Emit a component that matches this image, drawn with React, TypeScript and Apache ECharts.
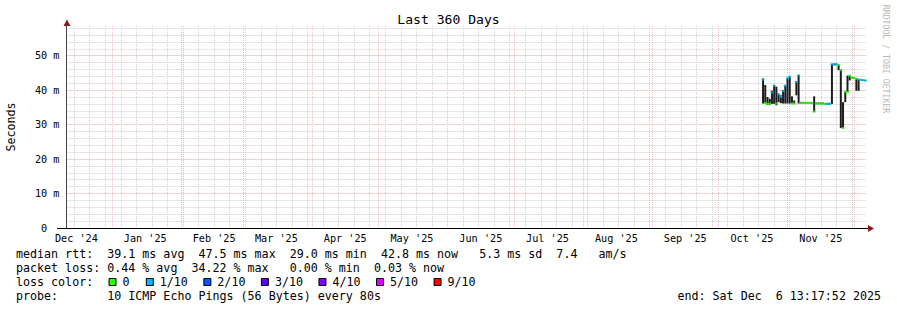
import React, { useEffect, useRef } from "react";
import * as echarts from "echarts";

// ---------- text ----------
const titleText = "Last 360 Days";
const yAxisTitle = "Seconds";
const watermark = "RRDTOOL / TOBI OETIKER";
const legendLines = [
  "median rtt:  39.1 ms avg  47.5 ms max  29.0 ms min  42.8 ms now   5.3 ms sd  7.4   am/s",
  "packet loss: 0.44 % avg  34.22 % max   0.00 % min  0.03 % now",
  "loss color:",
  "probe:       10 ICMP Echo Pings (56 Bytes) every 80s",
];
const endText = "end: Sat Dec  6 13:17:52 2025";

// ---------- time range / ticks ----------
const rangeStart = "2024-12-11T13:17:52";
const rangeEnd = "2025-12-06T13:17:52";
const firstSunday = "2024-12-15";
const monthStarts = [
  "2024-12-01", "2025-01-01", "2025-02-01", "2025-03-01", "2025-04-01", "2025-05-01",
  "2025-06-01", "2025-07-01", "2025-08-01", "2025-09-01", "2025-10-01", "2025-11-01", "2025-12-01",
];
const monthLabels = [
  "Dec '24", "Jan '25", "Feb '25", "Mar '25", "Apr '25", "May '25",
  "Jun '25", "Jul '25", "Aug '25", "Sep '25", "Oct '25", "Nov '25", "Dec '25",
];
const yMax = 58.6;
const yMajorTicks = [0, 10, 20, 30, 40, 50];
const yMinorStep = 2;

// ---------- loss legend ----------
const lossLabels = ["0", "1/10", "2/10", "3/10", "4/10", "5/10", "9/10"];
const lossColors = ["#26ff00", "#00b8ff", "#0059ff", "#5e00ff", "#7e00ff", "#dd00ff", "#ff0000"];

// ---------- data (one sample per day from firstDay) ----------
const firstDay = "2025-10-21";
const medianMs = [
  43.0, 36.3, 36.0, 36.0, 39.3, 41.3, 36.1, 38.8, 38.1, 39.7, 41.3, 43.4, 43.9, 36.1, 36.1, 42.4,
  44.3, 36.3, 36.3, 36.3, 36.3, 36.3, 36.2, 33.8, 36.1, 36.1, 36.1, 36.0, 36.0, 36.0, 36.0, 47.5,
  47.5, 47.5, 47.3, 45.8, 29.0, 39.5, 39.5, 44.2, 43.6, 43.5, 43.3, 43.1, 43.0, 42.9, 42.8,
];
const smokeLowMs = [
  36.1, 36.1, 35.7, 35.7, 36.0, 36.0, 35.6, 36.5, 36.2, 36.1, 36.1, 36.1, 36.1, 36.1, 36.0, 38.5,
  36.1, 36.1, 36.1, 36.1, 36.1, 36.1, 36.1, 33.6, 35.9, 35.9, 35.9, 35.9, 35.8, 35.8, 35.8, 36.0,
  47.2, 47.2, 45.8, 29.0, 28.9, 36.5, 39.4, 42.8, 43.4, 43.3, 39.8, 39.8, 42.8, 42.7, 42.6,
];
const smokeHighMs = [
  43.4, 41.5, 38.0, 37.5, 39.8, 41.5, 41.0, 39.0, 38.5, 40.0, 41.5, 43.6, 44.0, 38.2, 37.0, 42.6,
  44.4, 36.6, 36.5, 36.5, 36.5, 36.5, 36.5, 38.2, 36.4, 36.4, 36.4, 36.4, 36.3, 36.3, 36.3, 47.6,
  47.7, 47.7, 47.5, 46.0, 36.5, 39.6, 44.2, 44.3, 43.8, 43.7, 43.5, 43.2, 43.1, 43.0, 42.9,
];
const lossIndex = [
  1, 0, 0, 0, 1, 1, 0, 1, 1, 1, 1, 1, 1, 0, 0, 1,
  1, 0, 0, 0, 0, 0, 0, 0, 0, 0, 0, 0, 0, 1, 1, 1,
  1, 1, 0, 0, 0, 0, 0, 0, 0, 0, 0, 1, 1, 1, 1,
];

const MONO = '"DejaVu Sans Mono", monospace';
const DAY = 86400000;
const ts = (s: string) => new Date(s + (s.length === 10 ? "T00:00:00Z" : "Z")).getTime();

export default function App() {
  const ref = useRef<HTMLDivElement>(null);

  useEffect(() => {
    if (!ref.current) return;
    const chart = echarts.init(ref.current, null, { renderer: "svg" });

    const xMin = ts(rangeStart);
    const xMax = ts(rangeEnd);
    const weekTicks: number[] = [];
    for (let t = ts(firstSunday); t <= xMax; t += 7 * DAY) weekTicks.push(t);
    const monthTicks = monthStarts.map(ts).filter((t) => t >= xMin && t <= xMax);
    const labelTicks: number[] = [];
    const labelText: Record<string, string> = {};
    monthStarts.forEach((m, i) => {
      const t = ts(m) + 15 * DAY;
      if (t >= xMin && t <= xMax) {
        labelTicks.push(t);
        labelText[String(t)] = monthLabels[i];
      }
    });
    const yMinorTicks: number[] = [];
    for (let v = 0; v <= yMax; v += yMinorStep) yMinorTicks.push(v);

    const d0 = ts(firstDay);
    const smokeData = medianMs.map((_, i) => [d0 + i * DAY, smokeLowMs[i], smokeHighMs[i]]);
    const medianData = medianMs.map((v, i) => [d0 + i * DAY, v, lossIndex[i]]);

    const graphics: any[] = [];
    graphics.push({
      type: "text", x: 448.5, y: 19,
      style: { text: titleText, fontFamily: MONO, fontSize: 13.1, fill: "#000", align: "center", verticalAlign: "middle" },
    });
    graphics.push({
      type: "text", x: 11, y: 127, rotation: Math.PI / 2,
      style: { text: yAxisTitle, fontFamily: MONO, fontSize: 11.67, fill: "#000", align: "center", verticalAlign: "middle" },
    });
    graphics.push({
      type: "text", x: 886, y: 59, rotation: -Math.PI / 2,
      style: { text: watermark, fontFamily: MONO, fontSize: 8.2, fill: "#b8b8b8", align: "center", verticalAlign: "middle" },
    });
    const lineY = [254, 268, 282, 296];
    legendLines.forEach((t, i) => {
      graphics.push({
        type: "text", x: 16, y: lineY[i],
        style: { text: t, fontFamily: MONO, fontSize: 11.67, fill: "#000", align: "left", verticalAlign: "middle" },
      });
    });
    lossLabels.forEach((lab, i) => {
      const bx = i === 0 ? 108.5 : 145.8 + (i - 1) * 57.55;
      graphics.push({
        type: "rect", shape: { x: bx + 0.5, y: 278.5, width: 7, height: 7 },
        style: { fill: lossColors[i], stroke: "#000", lineWidth: 1 },
      });
      graphics.push({
        type: "text", x: bx + 14, y: lineY[2],
        style: { text: lab, fontFamily: MONO, fontSize: 11.67, fill: "#000", align: "left", verticalAlign: "middle" },
      });
    });
    graphics.push({
      type: "text", x: 881, y: lineY[3],
      style: { text: endText, fontFamily: MONO, fontSize: 11.67, fill: "#000", align: "right", verticalAlign: "middle" },
    });
    // axis arrows and axis stub
    graphics.push({ type: "line", shape: { x1: 57, y1: 228.5, x2: 67, y2: 228.5 }, style: { stroke: "#000", lineWidth: 1 } });
    graphics.push({ type: "line", shape: { x1: 866, y1: 228.5, x2: 869, y2: 228.5 }, style: { stroke: "#000", lineWidth: 1 } });
    graphics.push({ type: "polygon", shape: { points: [[868, 225], [874, 228.5], [868, 232]] }, style: { fill: "#8b1a1a" } });
    graphics.push({ type: "polygon", shape: { points: [[63.5, 26], [67, 19.5], [70.5, 26]] }, style: { fill: "#8b1a1a" } });

    const grid = { left: 66.5, right: 30.5, top: 26, bottom: 82 };
    const minorLine = { show: true, lineStyle: { color: "#cfcfcf", type: [1, 1], width: 1 } };
    const majorLine = { show: true, lineStyle: { color: "#f5bcbc", type: [1, 1], width: 1 } };

    chart.setOption({
      animation: false,
      backgroundColor: "#ffffff",
      grid,
      xAxis: [
        {
          type: "value", min: xMin, max: xMax, position: "bottom",
          axisLine: { show: false }, axisLabel: { show: false },
          axisTick: { show: false, customValues: weekTicks },
          splitLine: minorLine,
        },
        {
          type: "value", min: xMin, max: xMax, position: "bottom",
          axisLine: { show: true, onZero: false, lineStyle: { color: "#000", width: 1 } },
          axisTick: { show: false, customValues: monthTicks },
          axisLabel: {
            show: true, customValues: labelTicks,
            formatter: (v: number) => labelText[String(v)] ?? "",
            fontFamily: MONO, fontSize: 10.2, color: "#000", margin: 5,
          },
          splitLine: majorLine,
        },
      ],
      yAxis: [
        {
          type: "value", min: 0, max: yMax,
          axisLine: { show: false }, axisLabel: { show: false },
          axisTick: { show: false, customValues: yMinorTicks },
          splitLine: minorLine,
        },
        {
          type: "value", min: 0, max: yMax, position: "left",
          axisLine: { show: true, onZero: false, lineStyle: { color: "#444", width: 1 } },
          axisTick: { show: false, customValues: yMajorTicks },
          axisLabel: {
            show: true, customValues: yMajorTicks,
            formatter: (v: number) => (v === 0 ? "0\u00a0\u00a0" : `${v} m`),
            fontFamily: MONO, fontSize: 10.2, color: "#000", margin: 7,
          },
          splitLine: majorLine,
        },
      ],
      series: [
        {
          type: "custom", xAxisIndex: 1, yAxisIndex: 1,
          data: smokeData,
          encode: { x: 0, y: [1, 2] },
          renderItem: (_p: any, api: any) => {
            const x = api.value(0);
            const top = api.coord([x, api.value(2)]);
            const bot = api.coord([x, api.value(1)]);
            return {
              type: "rect",
              shape: { x: top[0] - 1, y: top[1], width: 2, height: Math.max(1, bot[1] - top[1]) },
              style: { fill: "#1c1c1c" },
            };
          },
          z: 3,
        },
        {
          type: "scatter", xAxisIndex: 1, yAxisIndex: 1,
          data: medianData,
          symbol: "rect", symbolSize: [3, 2],
          itemStyle: { color: (p: any) => lossColors[p.value[2]] },
          z: 4,
        },
      ],
      graphic: graphics,
    });

    return () => chart.dispose();
  }, []);

  return (
    <div
      ref={ref}
      style={{ position: "fixed", left: 0, top: 0, width: 897, height: 310, background: "#fff" }}
    />
  );
}
